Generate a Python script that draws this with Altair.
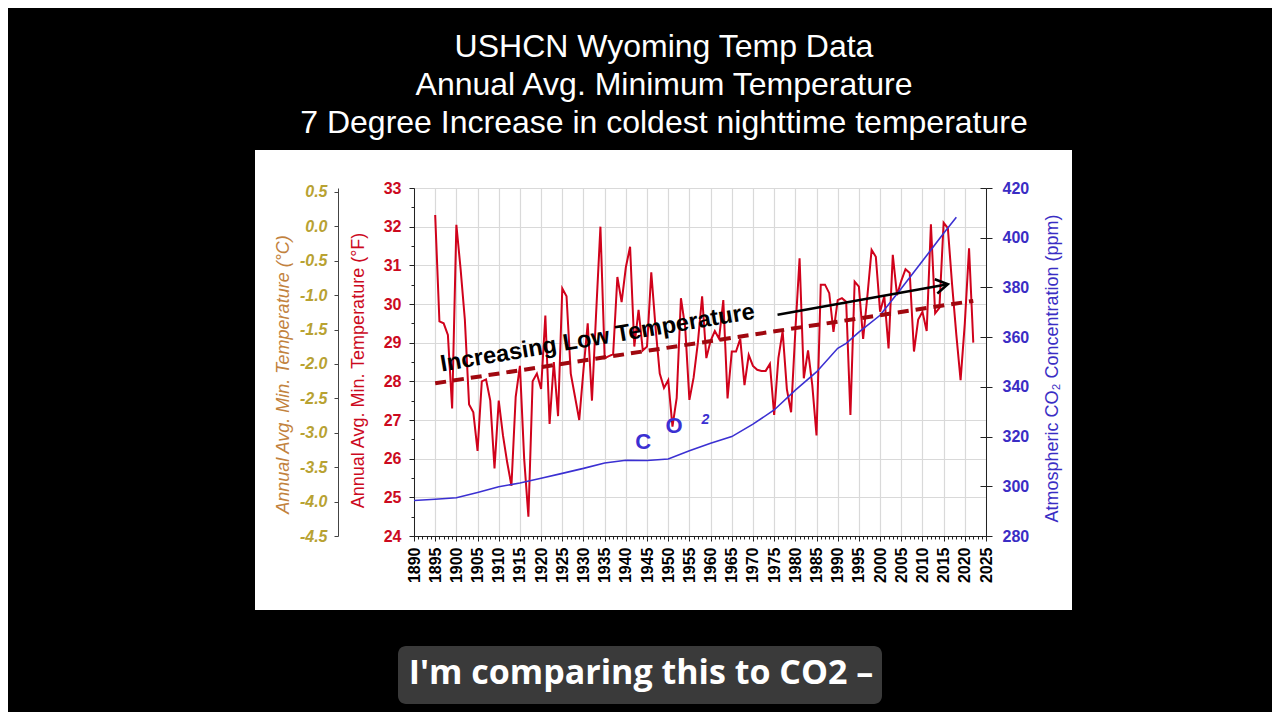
import altair as alt
import pandas as pd

FONT = "Liberation Sans"
RED = "#d0021b"
RED_AX = "#cc0a1e"
DARK_RED = "#a0080f"
BLUE = "#3b30d2"
BLUE_AX = "#3a2dc4"
GOLD = "#b8a232"
BROWN = "#c2823e"
GRID = "#d9d9d9"
AXC = "#222222"

# ---------------- data ----------------
years = list(range(1895, 2023))
temps_f = [
    32.3, 29.55, 29.5, 29.2, 27.3,
    32.05, 30.9, 29.6, 27.4, 27.2, 26.2, 28.0, 28.05, 27.5, 25.75,
    27.5, 26.6, 25.9, 25.3, 27.6, 28.4, 26.0, 24.5, 28.0, 28.2,
    27.8, 29.7, 26.9, 28.5, 27.1, 30.4, 30.2, 28.2, 27.6, 27.0,
    28.3, 29.5, 27.5, 29.8, 32.0, 28.6, 28.65, 28.7, 30.7, 30.05,
    30.95, 31.48, 28.9, 29.85, 28.8, 28.9, 30.82, 29.4, 28.2, 27.83,
    28.03, 26.83, 27.57, 30.15, 29.4, 27.52, 28.1, 29.0, 30.2, 28.6,
    29.05, 29.3, 29.1, 30.1, 27.56, 28.77, 28.77, 29.1, 27.9, 28.68,
    28.4, 28.3, 28.27, 28.27, 28.45, 27.13, 28.6, 29.3, 27.8, 27.2,
    29.3, 31.18, 28.08, 28.8, 27.9, 26.6, 30.5, 30.5, 30.28, 29.28,
    30.1, 30.15, 30.06, 27.13, 30.58, 30.45, 29.1, 30.2, 31.4, 31.22,
    29.8, 30.2, 28.85, 31.27, 30.23, 30.6, 30.9, 30.8, 28.77, 29.6,
    29.8, 29.3, 32.06, 29.76, 29.9, 32.1, 31.96, 30.5, 29.2, 28.03,
    29.5, 31.44, 29.0,
]

co2_years = [1890, 1895, 1900, 1905, 1910, 1915, 1920, 1925, 1930, 1935, 1940,
             1945, 1950, 1955, 1960, 1965, 1970, 1975, 1980, 1985, 1990, 1992,
             1995, 2000, 2005, 2010, 2015, 2018]
co2_ppm = [294.3, 294.8, 295.4, 297.5, 299.8, 301.3, 303.2, 305.2, 307.2, 309.4,
           310.5, 310.4, 311.0, 314.3, 317.3, 320.0, 325.0, 330.7, 338.7, 346.0,
           355.5, 357.5, 362.0, 368.8, 379.6, 390.6, 401.8, 408.2]

trend_years = [1895, 2022]
trend_f = [27.95, 30.08]

arrow_years = [1975.8, 2016.0]
arrow_f = [29.72, 30.51]

year_ticks = [1890, 1895, 1900, 1905, 1910, 1915, 1920, 1925, 1930, 1935, 1940,
              1945, 1950, 1955, 1960, 1965, 1970, 1975, 1980, 1985, 1990, 1995,
              2000, 2005, 2010, 2015, 2020, 2025]
year_minor = list(range(1890, 2026))
f_ticks = [24, 25, 26, 27, 28, 29, 30, 31, 32, 33]
f_minor = [24.5, 25.5, 26.5, 27.5, 28.5, 29.5, 30.5, 31.5, 32.5]
c_ticks = [0.5, 0.0, -0.5, -1.0, -1.5, -2.0, -2.5, -3.0, -3.5, -4.0, -4.5]
co2_ticks = [280, 300, 320, 340, 360, 380, 400, 420]

title_lines = ["USHCN Wyoming Temp Data",
               "Annual Avg. Minimum Temperature",
               "7 Degree Increase in coldest nighttime temperature"]
caption = "I'm comparing this to CO2 \u2013"
trend_label = "Increasing Low Temperature"
trend_label_year = [1933.6]
trend_label_f = [28.94]
co2_letters = ["C", "O"]
co2_letter_years = [1944.1, 1951.4]
co2_letter_f = [26.44, 26.85]
co2_sub = ["2"]
co2_sub_year = [1958.8]
co2_sub_f = [27.0]

# ---------------- tables ----------------
temp_df = pd.DataFrame({"year": years, "temp": temps_f})
co2_df = pd.DataFrame({"year": co2_years, "ppm": co2_ppm})
trend_df = pd.DataFrame({"year": trend_years, "temp": trend_f})
arrow_df = pd.DataFrame({"year": arrow_years, "temp": arrow_f})
tip_df = arrow_df.tail(1)
lab_df = pd.DataFrame({"year": trend_label_year, "temp": trend_label_f, "t": [trend_label]})
co2l_df = pd.DataFrame({"year": co2_letter_years, "temp": co2_letter_f, "t": co2_letters})
co2s_df = pd.DataFrame({"year": co2_sub_year, "temp": co2_sub_f, "t": co2_sub})
c_df = pd.DataFrame({"c": c_ticks})
one = pd.DataFrame({"k": [0]})

xs = alt.Scale(domain=[1890, 2025], nice=False, zero=False)
fs = alt.Scale(domain=[24, 33], nice=False, zero=False)
cs = alt.Scale(domain=[-4.5, 0.556], nice=False, zero=False)
ps = alt.Scale(domain=[280, 420], nice=False, zero=False)


def strip(x, x2, y, y2):
    return alt.Chart(one).mark_rect(color="black").encode(
        x=alt.value(x), x2=alt.value(x2), y=alt.value(y), y2=alt.value(y2))


frame = [strip(-406, 858, -180, -38), strip(-406, 858, 422, 524),
         strip(-406, -159, -38, 422), strip(658, 858, -38, 422)]

title = alt.Chart(one).mark_text(
    font=FONT, fontSize=32, lineHeight=38, color="white",
    align="center", baseline="alphabetic").encode(
    x=alt.value(250), y=alt.value(-131), text=alt.value(title_lines))

cap_box = alt.Chart(one).mark_rect(color="#3a3a3a", cornerRadius=8).encode(
    x=alt.value(-16), x2=alt.value(468), y=alt.value(458), y2=alt.value(516))
cap_text = alt.Chart(one).mark_text(
    font="Open Sans", fontSize=34, fontWeight="bold", color="white",
    align="center", baseline="middle").encode(
    x=alt.value(227), y=alt.value(486), text=alt.value(caption))

x_axis = alt.Axis(orient="bottom", values=year_ticks, format="d", labelAngle=270,
                  labelFont=FONT, labelFontSize=16, labelFontWeight="bold",
                  labelColor="black", labelPadding=6, labelOverlap=False,
                  labelFlush=False, tickSize=5, tickColor=AXC, domainColor=AXC,
                  grid=True, gridColor=GRID, gridWidth=1.2, title=None)

f_axis = alt.Axis(orient="left", values=f_ticks, format="d", labelFont=FONT,
                  labelFontSize=16, labelFontWeight="bold", labelColor=RED_AX,
                  labelPadding=8, tickSize=5, tickColor=AXC, domainColor=AXC,
                  grid=True, gridColor=GRID, gridWidth=1.2,
                  title="Annual Avg. Min. Temperature (\u00b0F)", titleColor=RED_AX,
                  titleFont=FONT, titleFontSize=18, titleFontWeight="normal",
                  titleAngle=270, titleX=-56, titleY=182, titleAlign="center",
                  titleBaseline="middle")

temp = alt.Chart(temp_df).mark_line(color=RED, strokeWidth=2).encode(
    x=alt.X("year:Q", scale=xs, axis=x_axis),
    y=alt.Y("temp:Q", scale=fs, axis=f_axis))

minor = alt.Chart(temp_df).mark_point(opacity=0).encode(
    x=alt.X("year:Q", scale=xs, axis=alt.Axis(
        orient="bottom", values=year_minor, labels=False, domain=False,
        grid=False, tickSize=3, tickColor=AXC, title=None)),
    y=alt.Y("temp:Q", scale=fs, axis=alt.Axis(
        orient="left", values=f_minor, labels=False, domain=False,
        grid=False, tickSize=3, tickColor=AXC, title=None)))

c_axis = alt.Axis(orient="left", offset=76, values=c_ticks,
                  labelExpr="datum.value < 0 ? '-' + format(-datum.value, '.1f') : format(datum.value, '.1f')",
                  labelFont=FONT, labelFontSize=16, labelFontWeight="bold",
                  labelFontStyle="italic", labelColor=GOLD, labelPadding=7,
                  tickSize=4, tickColor="#444444", domainColor="#444444", grid=False,
                  title="Annual Avg. Min. Temperature (\u00b0C)", titleColor=BROWN,
                  titleFont=FONT, titleFontSize=18, titleFontWeight="normal",
                  titleFontStyle="italic", titleAngle=270, titleX=-55, titleY=186,
                  titleAlign="center", titleBaseline="middle")

c_layer = alt.Chart(c_df).mark_point(opacity=0).encode(
    y=alt.Y("c:Q", scale=cs, axis=c_axis))

co2_axis = alt.Axis(orient="right", values=co2_ticks, format="d", labelFont=FONT,
                    labelFontSize=16, labelFontWeight="bold", labelColor=BLUE_AX,
                    labelPadding=10, tickSize=6, tickColor=AXC, domainColor=AXC,
                    grid=False, title="Atmospheric CO\u2082 Concentration (ppm)",
                    titleColor=BLUE_AX, titleFont=FONT, titleFontSize=18,
                    titleFontWeight="normal", titleAngle=270, titleX=66, titleY=180,
                    titleAlign="center", titleBaseline="middle")

co2 = alt.Chart(co2_df).mark_line(color=BLUE, strokeWidth=1.6).encode(
    x=alt.X("year:Q", scale=xs, axis=None),
    y=alt.Y("ppm:Q", scale=ps, axis=co2_axis))

co2_inner = alt.Chart(co2_df).mark_point(opacity=0).encode(
    y=alt.Y("ppm:Q", scale=ps, axis=alt.Axis(
        orient="right", offset=-6, values=co2_ticks, labels=False, domain=False,
        grid=False, tickSize=6, tickColor=AXC, title=None)))

trend = alt.Chart(trend_df).mark_line(color=DARK_RED, strokeWidth=4,
                                      strokeDash=[11, 7]).encode(
    x=alt.X("year:Q", scale=xs, axis=None),
    y=alt.Y("temp:Q", scale=fs, axis=None))

arrow = alt.Chart(arrow_df).mark_line(color="black", strokeWidth=2.5).encode(
    x=alt.X("year:Q", scale=xs, axis=None),
    y=alt.Y("temp:Q", scale=fs, axis=None))

tip = alt.Chart(tip_df).mark_point(shape="M -1 -0.6 L 0 0 L -1 0.6", filled=False,
                                   stroke="black", strokeWidth=2.5, size=576,
                                   angle=350, opacity=1).encode(
    x=alt.X("year:Q", scale=xs, axis=None),
    y=alt.Y("temp:Q", scale=fs, axis=None))

lab = alt.Chart(lab_df).mark_text(font=FONT, fontSize=23.5, fontWeight="bold",
                                  color="black", align="center",
                                  baseline="alphabetic", angle=350.4).encode(
    x=alt.X("year:Q", scale=xs, axis=None),
    y=alt.Y("temp:Q", scale=fs, axis=None),
    text="t:N")

co2l = alt.Chart(co2l_df).mark_text(font=FONT, fontSize=22, fontWeight="bold",
                                    color=BLUE, align="center",
                                    baseline="middle").encode(
    x=alt.X("year:Q", scale=xs, axis=None),
    y=alt.Y("temp:Q", scale=fs, axis=None),
    text="t:N")

co2s = alt.Chart(co2s_df).mark_text(font=FONT, fontSize=14, fontWeight="bold",
                                    fontStyle="italic", color=BLUE, align="center",
                                    baseline="middle").encode(
    x=alt.X("year:Q", scale=xs, axis=None),
    y=alt.Y("temp:Q", scale=fs, axis=None),
    text="t:N")

chart = alt.layer(
    *frame, title, cap_box, cap_text,
    temp, minor, c_layer, co2, co2_inner, trend, arrow, tip, lab, co2l, co2s
).resolve_scale(x="independent", y="independent").properties(
    width=572, height=348,
    autosize=alt.AutoSizeParams(type="none"),
    padding={"left": 406, "top": 180, "right": 286, "bottom": 176},
    background="white",
).configure_view(stroke=AXC, strokeWidth=1)

chart.save("out.html", embed_options={"renderer": "svg", "actions": False})
